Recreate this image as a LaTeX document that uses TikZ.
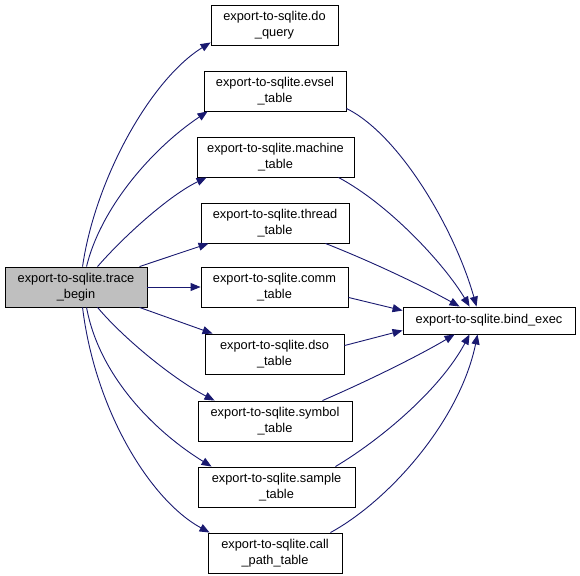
\documentclass[tikz,border=0pt]{standalone}
\usepackage{fontspec}
\setmainfont{Liberation Sans}
\usetikzlibrary{arrows.meta}
\definecolor{edgeblue}{HTML}{191970}
\definecolor{rootgray}{HTML}{BFBFBF}
\tikzset{
  fnbox/.style={draw=black, line width=0.9pt, fill=white, rectangle, inner sep=0pt,
    minimum height=40pt, align=center,
    font=\fontsize{12.8pt}{16pt}\selectfont},
  edge/.style={draw=edgeblue, line width=0.9pt,
    -{Triangle[length=10pt,width=8pt]}}
}
\begin{document}
\begin{tikzpicture}[x=1pt,y=-1pt]
\useasboundingbox (0,0) rectangle (580,575);
\node[fnbox, fill=rootgray, minimum width=142pt] (tb) at (76,287) {export-to-sqlite.trace\\\_begin};
\node[fnbox, minimum width=127pt] (dq) at (274.5,25) {export-to-sqlite.do\\\_query};
\node[fnbox, minimum width=142pt] (ev) at (275,91) {export-to-sqlite.evsel\\\_table};
\node[fnbox, minimum width=157pt] (ma) at (275.5,157) {export-to-sqlite.machine\\\_table};
\node[fnbox, minimum width=148pt] (th) at (275,223) {export-to-sqlite.thread\\\_table};
\node[fnbox, minimum width=147pt] (cm) at (274.5,287) {export-to-sqlite.comm\\\_table};
\node[fnbox, minimum width=139pt] (ds) at (274.5,354) {export-to-sqlite.dso\\\_table};
\node[fnbox, minimum width=154pt] (sy) at (275,421) {export-to-sqlite.symbol\\\_table};
\node[fnbox, minimum width=157pt] (sa) at (276.5,487) {export-to-sqlite.sample\\\_table};
\node[fnbox, minimum width=134pt] (cp) at (275,553) {export-to-sqlite.call\\\_path\_table};
\node[fnbox, minimum width=172pt, minimum height=27pt] (be) at (489,320.5) {export-to-sqlite.bind\_exec};

% trace_begin -> callees
\draw[edge] ([xshift=78pt]tb.north west) .. controls (95,180) and (150,80) .. ([yshift=3pt]dq.south west);
\draw[edge] ([xshift=82pt]tb.north west) .. controls (100,210) and (150,150) .. ([xshift=4pt]ev.south west);
\draw[edge] ([xshift=93pt]tb.north west) .. controls (125,235) and (170,195) .. ([xshift=10pt]ma.south west);
\draw[edge] ([xshift=135pt]tb.north west) -- ([xshift=8pt]th.south west);
\draw[edge] (tb.east) -- (cm.west);
\draw[edge] ([xshift=135pt]tb.south west) -- ([xshift=8pt]ds.north west);
\draw[edge] ([xshift=93pt]tb.south west) .. controls (125,340) and (175,380) .. ([xshift=17pt]sy.north west);
\draw[edge] ([xshift=82pt]tb.south west) .. controls (100,380) and (160,435) .. ([xshift=14pt]sa.north west);
\draw[edge] ([xshift=78pt]tb.south west) .. controls (95,410) and (150,500) .. ([xshift=2pt]cp.north west);

% callees -> bind_exec
\draw[edge] ([yshift=3pt]ev.south east) .. controls (400,135) and (455,230) .. ([xshift=74pt]be.north west);
\draw[edge] ([xshift=-16pt]ma.south east) .. controls (390,205) and (445,265) .. ([xshift=67pt]be.north west);
\draw[edge] ([xshift=-24pt]th.south east) .. controls (380,265) and (430,290) .. ([xshift=57pt]be.north west);
\draw[edge] ([yshift=10pt]cm.south east) -- ([yshift=-4pt]be.north west);
\draw[edge] ([yshift=-12pt]ds.north east) -- ([yshift=4pt]be.south west);
\draw[edge] ([xshift=-30pt]sy.north east) .. controls (370,380) and (420,355) .. ([xshift=52pt]be.south west);
\draw[edge] ([xshift=-20pt]sa.north east) .. controls (380,440) and (440,390) .. ([xshift=67pt]be.south west);
\draw[edge] ([xshift=-12pt]cp.north east) .. controls (390,500) and (460,420) .. ([xshift=75pt]be.south west);
\end{tikzpicture}
\end{document}
